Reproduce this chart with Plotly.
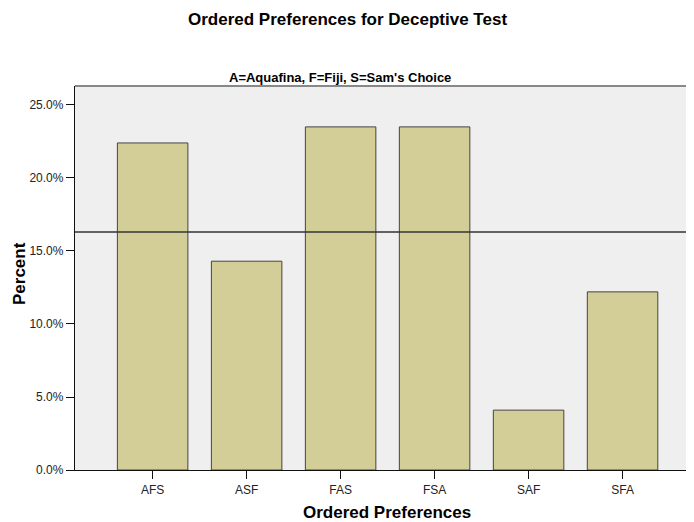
import plotly.graph_objects as go

categories = ["AFS", "ASF", "FAS", "FSA", "SAF", "SFA"]
percent = [22.4, 14.3, 23.5, 23.5, 4.1, 12.2]
reference_value = 16.3
y_ticks = [0, 5, 10, 15, 20, 25]
y_tick_labels = ["0.0%", "5.0%", "10.0%", "15.0%", "20.0%", "25.0%"]

FONT = "Liberation Sans, Arial, sans-serif"
OFF = 8  # page body margin
W, H = 694 - OFF, 522 - OFF
L, R, T, B = 75 - OFF, 0, 86 - OFF, 52
plot_w = W - L - R
plot_h = H - T - B


def px(win_x):
    return (win_x - OFF - L) / plot_w


def py(win_y):
    return (470 - win_y) / plot_h


fig = go.Figure()
fig.add_trace(go.Bar(
    x=categories, y=percent, width=0.75,
    marker=dict(color="#D3CE98", line=dict(color="#444444", width=1)),
    hoverinfo="x+y",
))

fig.add_shape(type="line", xref="paper", yref="y", x0=0, x1=1,
              y0=reference_value, y1=reference_value,
              line=dict(color="#333333", width=1.3))
fig.add_shape(type="line", xref="paper", yref="paper", x0=0, x1=1, y0=1, y1=1,
              line=dict(color="#888888", width=2))

fig.add_annotation(text="<b>Ordered Preferences for Deceptive Test</b>",
                   xref="paper", yref="paper", x=px(347), y=py(8.5),
                   xanchor="center", yanchor="top", showarrow=False,
                   font=dict(family=FONT, size=17, color="#000"))
fig.add_annotation(text="<b>A=Aquafina, F=Fiji, S=Sam's Choice</b>",
                   xref="paper", yref="paper", x=px(340), y=py(77),
                   xanchor="center", yanchor="middle", showarrow=False,
                   font=dict(family=FONT, size=13, color="#000"))
fig.add_annotation(text="<b>Ordered Preferences</b>",
                   xref="paper", yref="paper", x=px(387), y=py(512),
                   xanchor="center", yanchor="middle", showarrow=False,
                   font=dict(family=FONT, size=17, color="#000"))
fig.add_annotation(text="<b>Percent</b>", textangle=-90,
                   xref="paper", yref="paper", x=px(19), y=py(274),
                   xanchor="center", yanchor="middle", showarrow=False,
                   font=dict(family=FONT, size=17, color="#000"))

fig.update_layout(
    width=W, height=H,
    margin=dict(l=L, r=R, t=T, b=B, pad=0),
    paper_bgcolor="white", plot_bgcolor="#EFEFEF",
    showlegend=False, bargap=0.25,
    font=dict(family=FONT, size=12, color="#222"),
    xaxis=dict(
        type="category", range=[-0.826, 5.76],
        showline=True, linecolor="#111", linewidth=1.3,
        ticks="outside", ticklen=8, tickcolor="#111",
        showgrid=False, zeroline=False,
        tickfont=dict(family=FONT, size=12, color="#222"),
    ),
    yaxis=dict(
        range=[0, 26.3],
        tickvals=y_ticks, ticktext=y_tick_labels,
        showline=True, linecolor="#111", linewidth=1.3,
        ticks="outside", ticklen=8, tickcolor="#111",
        showgrid=False, zeroline=False,
        tickfont=dict(family=FONT, size=12, color="#222"),
    ),
)

fig.write_html("out.html")
